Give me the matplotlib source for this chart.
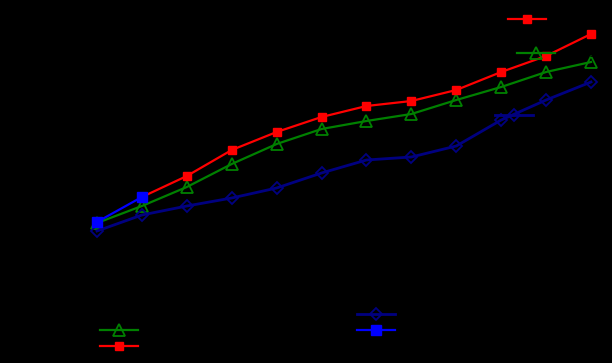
import matplotlib
matplotlib.use("Agg")
import matplotlib.pyplot as plt

# x positions (periods)
periods = list(range(1, 13))

# values (arbitrary units)
red_vals = [None, 166, 187, 213, 231, 246, 257, 262, 273, 291, 307, 329]
green_vals = [140, 157, 176, 199, 219, 234, 242, 249, 263, 276, 291, 301]
navy_vals = [132, 148, 157, 165, 175, 190, 203, 206, 217, 243, 263, 281]
blue_vals = [141, 166]

labels = ["Series A", "Series B", "Series C", "Series D"]

W, H = 612, 363
fig = plt.figure(figsize=(W / 100, H / 100), dpi=100, facecolor="black")
ax = fig.add_axes([0, 0, 1, 1], facecolor="black")
for s in ax.spines.values():
    s.set_color("black")
ax.set_xticks([])
ax.set_yticks([])

px_per_unit = (591 - 97) / 11
ax.set_xlim(1 - 97 / px_per_unit, 12 + (W - 591) / px_per_unit)
ax.set_ylim(0, H)

lw = 1.6
rx = periods[1:]
ry = red_vals[1:]
l_green, = ax.plot(periods, green_vals, color="#008000", lw=lw, marker="^", ms=8,
                   mfc="none", mec="#008000", mew=1.3, label=labels[1], zorder=2)
l_navy, = ax.plot(periods, navy_vals, color="#000080", lw=lw + 0.4, marker="D", ms=6.5,
                  mfc="none", mec="#000080", mew=1.3, label=labels[2], zorder=3)
l_red, = ax.plot(rx, ry, color="#ff0000", lw=lw, marker="s", ms=6,
                 mfc="#ff0000", mec="#ff0000", label=labels[0], zorder=4)
l_blue, = ax.plot(periods[:2], blue_vals, color="#0000ff", lw=lw, marker="s", ms=7.5,
                  mfc="#0000ff", mec="#0000ff", label=labels[3], zorder=5)


def add_legend(handles, x_px, y_px, fs=8, spacing=0.55):
    leg = fig.legend(handles=handles, labels=[h.get_label() for h in handles],
                     loc="center left", bbox_to_anchor=(x_px / W, 1 - y_px / H),
                     frameon=False, borderpad=0, borderaxespad=0, fontsize=fs,
                     handlelength=38 / (fs * 100 / 72), labelspacing=spacing,
                     handletextpad=0.5, labelcolor="black")
    return leg


add_legend([l_red], 508, 20)
add_legend([l_green], 517, 54)
add_legend([l_navy], 495, 116)
add_legend([l_green, l_red], 100, 339)
add_legend([l_navy, l_blue], 357, 323)

fig.savefig("out.png", dpi=100, facecolor="black")
